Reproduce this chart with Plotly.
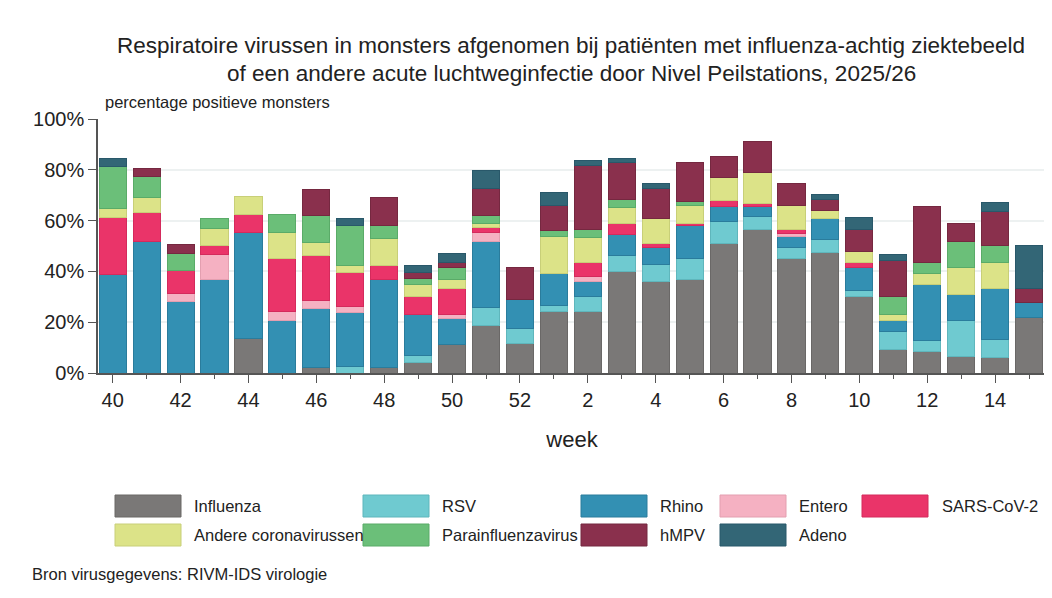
import plotly.graph_objects as go

weeks = ["40", "41", "42", "43", "44", "45", "46", "47", "48", "49", "50", "51", "52",
         "1", "2", "3", "4", "5", "6", "7", "8", "9", "10", "11", "12", "13", "14", "15"]

influenza = [0, 0, 0, 0, 13.4, 0, 2.1, 0, 2.1, 4.3, 11.3, 18.8, 11.6,
             24.1, 24.3, 39.9, 36.2, 36.8, 51.1, 56.6, 45.1, 47.5, 30.3, 9.2, 8.6, 6.6, 6.3, 22.0]
rsv = [0, 0, 0, 0, 0, 0, 0, 2.4, 0, 2.7, 0, 7.0, 5.8,
       2.6, 6.0, 6.2, 6.7, 8.3, 8.5, 5.2, 4.5, 4.9, 2.3, 7.0, 4.3, 14.2, 6.9, 0]
rhino = [38.7, 51.6, 28.2, 36.8, 42.1, 20.8, 23.4, 21.4, 34.7, 16.2, 10.0, 26.0, 11.7,
         12.5, 5.6, 8.5, 6.6, 12.8, 5.9, 3.6, 4.1, 8.3, 8.8, 4.6, 22.0, 10.1, 20.1, 5.9]
entero = [0, 0, 3.1, 10.0, 0, 3.4, 2.9, 2.3, 0, 0, 1.7, 3.6, 0,
          0, 2.0, 0, 0, 0, 0, 0, 1.3, 0, 0, 0, 0, 0, 0, 0]
sars = [22.6, 11.6, 9.2, 3.3, 6.9, 20.7, 18.0, 13.5, 5.4, 7.1, 10.3, 1.8, 0,
        0, 5.5, 4.3, 1.6, 1.0, 2.3, 1.4, 1.6, 0, 2.2, 0, 0, 0, 0, 0]
andere = [3.6, 5.7, 0, 6.9, 7.2, 10.6, 4.9, 2.6, 10.8, 4.7, 3.5, 1.7, 0,
          14.5, 9.8, 6.1, 9.8, 7.2, 9.2, 12.0, 9.5, 3.1, 4.4, 2.4, 4.3, 10.7, 10.1, 0]
para = [16.4, 8.6, 6.6, 3.7, 0, 7.0, 10.7, 15.8, 5.0, 2.2, 4.8, 3.3, 0,
        2.5, 3.4, 3.2, 0, 1.4, 0, 0, 0, 0, 0, 7.1, 4.2, 10.1, 6.7, 0]
hmpv = [0, 3.0, 3.3, 0, 0, 0, 10.4, 0, 10.9, 2.4, 1.8, 10.6, 12.3,
        9.7, 25.1, 14.6, 11.6, 15.5, 8.1, 12.3, 8.4, 4.6, 8.6, 13.9, 22.1, 7.2, 13.6, 5.3]
adeno = [3.3, 0, 0, 0, 0, 0, 0, 2.9, 0, 2.6, 3.6, 7.1, 0,
         5.3, 1.9, 1.8, 2.0, 0, 0, 0, 0, 1.9, 4.7, 2.6, 0, 0, 3.5, 17.1]

series_names = ["Influenza", "RSV", "Rhino", "Entero", "SARS-CoV-2",
                "Andere coronavirussen", "Parainfluenzavirus", "hMPV", "Adeno"]
series_values = [influenza, rsv, rhino, entero, sars, andere, para, hmpv, adeno]
colors = ["#7a7877", "#6fcad0", "#3390b3", "#f5b1c2", "#ea3469",
          "#dce388", "#6bbf79", "#8a304d", "#336676"]
edge_colors = ["#6a6867", "#5fb6bc", "#2a7c9c", "#e39fb0", "#d42a5c",
               "#c8cf78", "#5aab68", "#752840", "#29586a"]

y_ticks = [0, 20, 40, 60, 80, 100]

title_lines = ["Respiratoire virussen in monsters afgenomen bij patiënten met influenza-achtig ziektebeeld",
               "of een andere acute luchtweginfectie door Nivel Peilstations, 2025/26"]

FONT = "Liberation Sans, Arial, sans-serif"
TXT = "#222222"

OFF = 8  # page body margin
W, H = 1052 - OFF, 598 - OFF
L, R, T, B = 98 - OFF, 6, 119 - OFF, 225
plot_w = W - L - R
plot_h = H - T - B


def px_x(sx):
    return (sx - OFF - L) / plot_w


def px_y(sy):
    return (H - B - (sy - OFF)) / plot_h


fig = go.Figure()
xs = list(range(len(weeks)))
for name, vals, col, ecol in zip(series_names, series_values, colors, edge_colors):
    fig.add_trace(go.Bar(
        x=xs, y=[v if v else None for v in vals], name=name,
        marker=dict(color=col, line=dict(color=ecol, width=1)),
        hovertext=weeks,
    ))

fig.update_layout(
    width=W, height=H,
    margin=dict(l=L, r=R, t=T, b=B),
    barmode="stack", bargap=0.2,
    plot_bgcolor="white", paper_bgcolor="white",
    showlegend=False,
    font=dict(family=FONT, color=TXT),
)

fig.update_xaxes(
    range=[-0.433, 27.5],
    tickmode="array", tickvals=xs[::2], ticktext=weeks[::2],
    ticks="outside", ticklen=8, tickcolor="#555555", tickwidth=1,
    showline=True, linecolor="#555555", linewidth=1.5,
    showgrid=False, zeroline=False,
    minor=dict(ticks="outside", ticklen=4, tickcolor="#555555", dtick=1, tick0=0, showgrid=False),
    tickfont=dict(size=20, family=FONT, color=TXT),
    title=dict(text="week", font=dict(size=22, family=FONT, color=TXT), standoff=22),
)
fig.update_yaxes(
    range=[0, 100],
    tickmode="array", tickvals=y_ticks, ticktext=[f"{v}%" for v in y_ticks],
    ticks="outside", ticklen=8, tickcolor="#555555",
    showline=True, linecolor="#555555", linewidth=1.5,
    showgrid=True, gridcolor="#edf1f1", gridwidth=1.5,
    zeroline=False,
    tickfont=dict(size=20, family=FONT, color=TXT),
)

annotations = [
    dict(text=title_lines[0], x=px_x(571), y=px_y(45),
         xref="paper", yref="paper", xanchor="center", yanchor="middle", showarrow=False,
         font=dict(size=22.5, family=FONT, color=TXT)),
    dict(text=title_lines[1], x=px_x(571), y=px_y(73),
         xref="paper", yref="paper", xanchor="center", yanchor="middle", showarrow=False,
         font=dict(size=22.5, family=FONT, color=TXT)),
    dict(text="percentage positieve monsters", x=px_x(103), y=px_y(102),
         xref="paper", yref="paper", xanchor="left", yanchor="middle", showarrow=False,
         font=dict(size=16.5, family=FONT, color=TXT)),
    dict(text="Bron virusgegevens: RIVM-IDS virologie", x=px_x(30), y=px_y(574),
         xref="paper", yref="paper", xanchor="left", yanchor="middle", showarrow=False,
         font=dict(size=16.5, family=FONT, color=TXT)),
]

# custom legend (large swatches as in reference)
swatch_x = [115, 363, 581, 720, 862]
text_x = [192, 440, 658, 797, 940]
row_y = [506, 535]
shapes = []
for i, (name, col, ecol) in enumerate(zip(series_names, colors, edge_colors)):
    r, c = divmod(i, 5)
    cy = row_y[r]
    shapes.append(dict(type="rect", xref="paper", yref="paper",
                       x0=px_x(swatch_x[c]), x1=px_x(swatch_x[c] + 66),
                       y0=px_y(cy + 11), y1=px_y(cy - 11),
                       fillcolor=col, line=dict(color=ecol, width=1)))
    annotations.append(dict(text=name, x=px_x(text_x[c]), y=px_y(cy),
                            xref="paper", yref="paper", xanchor="left", yanchor="middle",
                            showarrow=False, font=dict(size=16.5, family=FONT, color=TXT)))

fig.update_layout(annotations=annotations, shapes=shapes)

fig.write_html("out.html")
